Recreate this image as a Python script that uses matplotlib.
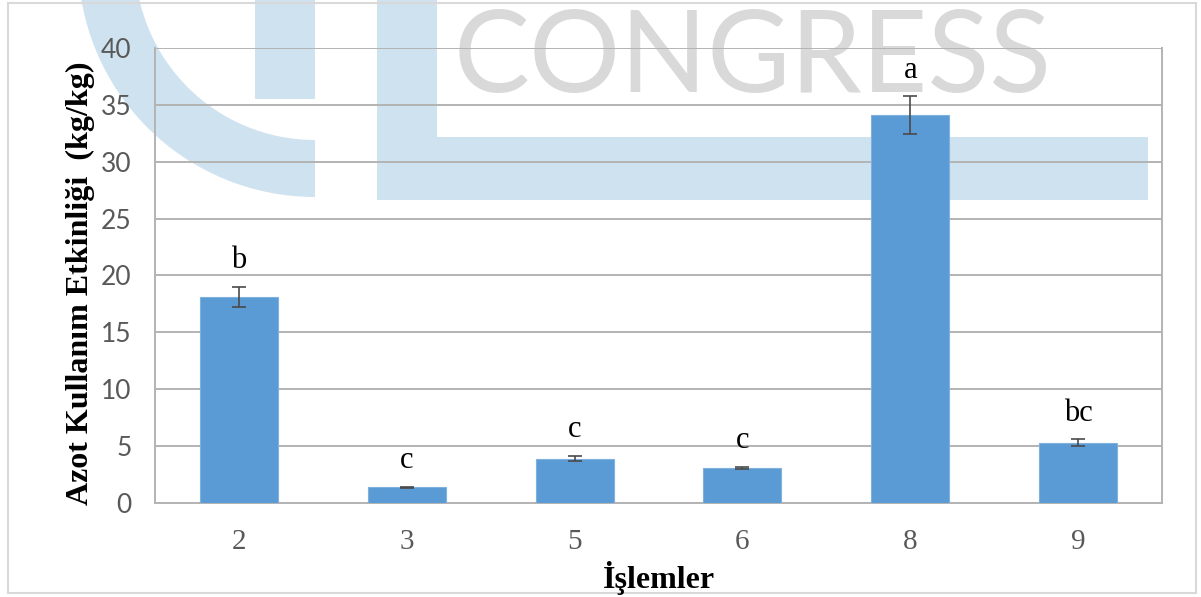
import matplotlib
matplotlib.use("Agg")
import matplotlib.pyplot as plt
from matplotlib.patches import Rectangle, Wedge

# treatments and nitrogen use efficiency (kg/kg)
treatments = ["2", "3", "5", "6", "8", "9"]
nue_mean = [18.1, 1.4, 3.9, 3.1, 34.1, 5.3]
nue_err = [0.9, 0.05, 0.25, 0.08, 1.65, 0.3]
groups = ["b", "c", "c", "c", "a", "bc"]

W, H, DPI = 1201, 597, 100
fig = plt.figure(figsize=(W / DPI, H / DPI), dpi=DPI)
fig.patch.set_facecolor("white")

# background logo, drawn in pixel units (inches * 100), y measured from the bottom
blue = "#cfe2f0"
px = fig.dpi_scale_trans


def prect(x0, y0, x1, y1, **kw):
    # rectangle given by top-left / bottom-right in image pixels
    return Rectangle((x0 / DPI, (H - y1) / DPI), (x1 - x0) / DPI, (y1 - y0) / DPI,
                     transform=px, **kw)


fig.patches.append(Wedge((315 / DPI, (H + 40) / DPI), 2.37, 180, 270, width=0.57,
                         transform=px, facecolor=blue, edgecolor="none", zorder=-2))
fig.patches.append(prect(255, 0, 315, 99, facecolor=blue, edgecolor="none", zorder=-2))
fig.patches.append(prect(377, 0, 437, 200, facecolor=blue, edgecolor="none", zorder=-2))
fig.patches.append(prect(377, 137, 1148, 200, facecolor=blue, edgecolor="none", zorder=-2))
fig.text(753 / W, 1 - 60 / H, "CONGRESS", ha="center", va="center", fontsize=82,
         family="Lato", color="#d9d9d9", zorder=-2)

# chart frame
fig.patches.append(prect(8, 3, 1196, 593, facecolor="none", edgecolor="#d9d9d9",
                         linewidth=1.5, zorder=-1))

ax = fig.add_axes([155 / W, (H - 503) / H, (1162 - 155) / W, (503 - 48) / H])
ax.set_facecolor("none")

x = range(len(treatments))
ax.bar(x, nue_mean, width=0.465, color="#5b9bd5", edgecolor="#7fb0de",
       linewidth=0.8, zorder=3)
ax.errorbar(x, nue_mean, yerr=nue_err, fmt="none", ecolor="#4a4a4a",
            elinewidth=1.2, capsize=5, capthick=1.2, zorder=4)

for i, g in enumerate(groups):
    ax.text(i, nue_mean[i] + nue_err[i] + 2.3, g, ha="center", va="center",
            fontsize=22, family="Liberation Serif", color="black", zorder=5)

ax.set_xlim(-0.5, len(treatments) - 0.5)
ax.set_ylim(0, 40)
ax.set_yticks(range(0, 41, 5))
ax.set_xticks(list(x))
ax.set_xticklabels(treatments)

ax.grid(axis="y", color="#b3b3b3", linewidth=1.4, zorder=1)
ax.set_axisbelow(True)
for side in ["top", "right", "bottom", "left"]:
    ax.spines[side].set_color("#b3b3b3")
    ax.spines[side].set_linewidth(1.4)
ax.spines["top"].set_visible(False)

ax.tick_params(axis="both", length=0)
ax.tick_params(axis="y", pad=17, labelsize=19, labelcolor="#595959")
ax.tick_params(axis="x", pad=19, labelsize=21, labelcolor="#595959")
for lab in ax.get_yticklabels():
    lab.set_family("Lato")
for lab in ax.get_xticklabels():
    lab.set_family("Liberation Serif")

ax.set_xlabel("İşlemler", fontsize=23, fontweight="bold", family="Liberation Serif")
ax.xaxis.set_label_coords(0.5, -0.165)
ax.xaxis.label.set_va("center")
ax.set_ylabel("Azot Kullanım Etkinliği  (kg/kg)", fontsize=23, fontweight="bold",
              family="Liberation Serif")
ax.yaxis.set_label_coords(-0.0745, 0.4835)
ax.yaxis.label.set_va("center")

fig.savefig("out.png", dpi=DPI)
